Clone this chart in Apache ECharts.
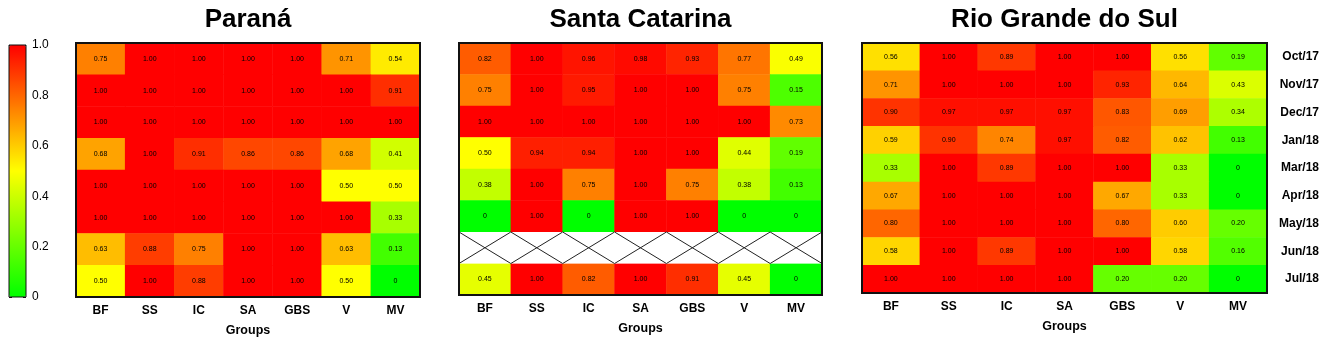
<!DOCTYPE html>
<html>
<head>
<meta charset="utf-8">
<script src="https://cdn.jsdelivr.net/npm/echarts@6/dist/echarts.min.js"></script>
<style>
  html, body { margin: 0; padding: 0; background: #fff; }
  #chart { width: 1325px; height: 343px; }
</style>
</head>
<body>
<div id="chart"></div>
<script>
// groups on the x axis
var groups = ['BF', 'SS', 'IC', 'SA', 'GBS', 'V', 'MV'];
// months, only labelled on the Rio Grande do Sul panel
var months = ['Oct/17', 'Nov/17', 'Dec/17', 'Jan/18', 'Mar/18', 'Apr/18', 'May/18', 'Jun/18', 'Jul/18'];
var legendTicks = [0, 0.2, 0.4, 0.6, 0.8, 1.0];

// rows top to bottom, columns as in groups
var parana = [
  [0.75, 1.00, 1.00, 1.00, 1.00, 0.71, 0.54],
  [1.00, 1.00, 1.00, 1.00, 1.00, 1.00, 0.91],
  [1.00, 1.00, 1.00, 1.00, 1.00, 1.00, 1.00],
  [0.68, 1.00, 0.91, 0.86, 0.86, 0.68, 0.41],
  [1.00, 1.00, 1.00, 1.00, 1.00, 0.50, 0.50],
  [1.00, 1.00, 1.00, 1.00, 1.00, 1.00, 0.33],
  [0.63, 0.88, 0.75, 1.00, 1.00, 0.63, 0.13],
  [0.50, 1.00, 0.88, 1.00, 1.00, 0.50, 0]
];
// null = no data (hatched row)
var santaCatarina = [
  [0.82, 1.00, 0.96, 0.98, 0.93, 0.77, 0.49],
  [0.75, 1.00, 0.95, 1.00, 1.00, 0.75, 0.15],
  [1.00, 1.00, 1.00, 1.00, 1.00, 1.00, 0.73],
  [0.50, 0.94, 0.94, 1.00, 1.00, 0.44, 0.19],
  [0.38, 1.00, 0.75, 1.00, 0.75, 0.38, 0.13],
  [0, 1.00, 0, 1.00, 1.00, 0, 0],
  [null, null, null, null, null, null, null],
  [0.45, 1.00, 0.82, 1.00, 0.91, 0.45, 0]
];
var rioGrande = [
  [0.56, 1.00, 0.89, 1.00, 1.00, 0.56, 0.19],
  [0.71, 1.00, 1.00, 1.00, 0.93, 0.64, 0.43],
  [0.90, 0.97, 0.97, 0.97, 0.83, 0.69, 0.34],
  [0.59, 0.90, 0.74, 0.97, 0.82, 0.62, 0.13],
  [0.33, 1.00, 0.89, 1.00, 1.00, 0.33, 0],
  [0.67, 1.00, 1.00, 1.00, 0.67, 0.33, 0],
  [0.80, 1.00, 1.00, 1.00, 0.80, 0.60, 0.20],
  [0.58, 1.00, 0.89, 1.00, 1.00, 0.58, 0.16],
  [1.00, 1.00, 1.00, 1.00, 0.20, 0.20, 0]
];

var FONT = "'Liberation Sans', Arial, sans-serif";

function toCells(rows) {
  var out = [];
  rows.forEach(function (row, r) {
    row.forEach(function (v, c) {
      if (v !== null) out.push([c, r, v]);
    });
  });
  return out;
}
function missingCells(rows) {
  var out = [];
  rows.forEach(function (row, r) {
    row.forEach(function (v, c) {
      if (v === null) out.push([c, r]);
    });
  });
  return out;
}
function rowIdx(n) {
  var a = [];
  for (var i = 0; i < n; i++) a.push(String(i));
  return a;
}

var panels = [
  { name: 'Paraná', rows: parana, left: 76, width: 344, height: 254 },
  { name: 'Santa Catarina', rows: santaCatarina, left: 459, width: 363, height: 252 },
  { name: 'Rio Grande do Sul', rows: rioGrande, left: 862, width: 405, height: 250 }
];

var grids = [], xAxes = [], yAxes = [], series = [], titles = [];

panels.forEach(function (p, i) {
  grids.push({
    left: p.left, top: 43, width: p.width, height: p.height,
    show: true, borderColor: '#111', borderWidth: 2, z: 10
  });
  titles.push({
    text: p.name, left: p.left + p.width / 2, top: 7, textAlign: 'center', padding: 0,
    textStyle: { fontFamily: FONT, fontSize: 26, fontWeight: 'bold', color: '#000' }
  });
  xAxes.push({
    type: 'category', gridIndex: i, data: groups, position: 'bottom',
    axisLine: { show: false }, axisTick: { show: false }, splitLine: { show: false },
    axisLabel: { margin: 8, fontFamily: FONT, fontSize: 12, fontWeight: 'bold', color: '#000' },
    name: 'Groups', nameLocation: 'middle', nameGap: 27,
    nameTextStyle: { fontFamily: FONT, fontSize: 12.5, fontWeight: 'bold', color: '#000' }
  });
  var isLast = i === 2;
  yAxes.push({
    type: 'category', gridIndex: i, inverse: true, position: 'right',
    data: isLast ? months : rowIdx(p.rows.length),
    axisLine: { show: false }, axisTick: { show: false }, splitLine: { show: false },
    axisLabel: {
      show: isLast, align: 'right', margin: 52,
      fontFamily: FONT, fontSize: 12, fontWeight: 'bold', color: '#000'
    }
  });
  series.push({
    type: 'heatmap', xAxisIndex: i, yAxisIndex: i,
    data: toCells(p.rows),
    label: {
      show: true, fontFamily: FONT, fontSize: 7, color: '#000',
      formatter: function (d) { var v = d.value[2]; return v === 0 ? '0' : v.toFixed(2); }
    },
    itemStyle: { borderWidth: 0 },
    emphasis: { disabled: true }
  });
});

// hatched cells with no data
series.push({
  type: 'custom', xAxisIndex: 1, yAxisIndex: 1,
  data: missingCells(santaCatarina),
  silent: true,
  renderItem: function (params, api) {
    var c = api.coord([api.value(0), api.value(1)]);
    var s = api.size([1, 1]);
    var x0 = c[0] - s[0] / 2, x1 = c[0] + s[0] / 2;
    var y0 = c[1] - s[1] / 2, y1 = c[1] + s[1] / 2;
    var line = { stroke: '#222', lineWidth: 1 };
    return {
      type: 'group',
      children: [
        { type: 'rect', shape: { x: x0, y: y0, width: s[0], height: s[1] }, style: { fill: '#fff' } },
        { type: 'line', shape: { x1: x0, y1: y0, x2: x1, y2: y1 }, style: line },
        { type: 'line', shape: { x1: x1, y1: y0, x2: x0, y2: y1 }, style: line }
      ]
    };
  }
});

// colour bar axis
grids.push({ left: 9, top: 45, width: 17, height: 252, show: true, borderColor: '#111', borderWidth: 1, z: 10 });
xAxes.push({ type: 'category', gridIndex: 3, data: [''], show: false });
yAxes.push({
  type: 'value', gridIndex: 3, position: 'right', min: 0, max: 1, interval: 0.2,
  axisLine: { show: false }, splitLine: { show: false },
  axisTick: { show: true, inside: true, length: 3, lineStyle: { color: '#111' } },
  axisLabel: {
    margin: 6, fontFamily: FONT, fontSize: 12, color: '#000',
    formatter: function (v) {
      var t = legendTicks.filter(function (x) { return Math.abs(x - v) < 1e-6; })[0];
      return t === 0 ? '0' : t.toFixed(1);
    }
  }
});
yAxes.push({
  type: 'value', gridIndex: 3, position: 'left', min: 0, max: 1, interval: 0.2,
  axisLine: { show: false }, splitLine: { show: false }, axisLabel: { show: false },
  axisTick: { show: true, inside: true, length: 3, lineStyle: { color: '#111' } }
});

var chart = echarts.init(document.getElementById('chart'));
chart.setOption({
  animation: false,
  title: titles,
  grid: grids,
  xAxis: xAxes,
  yAxis: yAxes,
  visualMap: {
    type: 'continuous', min: 0, max: 1, seriesIndex: [0, 1, 2],
    calculable: false, orient: 'vertical', left: 9, top: 45, padding: 0,
    itemWidth: 17, itemHeight: 252, text: null, showLabel: false,
    inRange: { color: ['#00ff00', '#ffff00', '#ff0000'] }
  },
  series: series
});
window.addEventListener('resize', function () { chart.resize(); });
</script>
</body>
</html>
